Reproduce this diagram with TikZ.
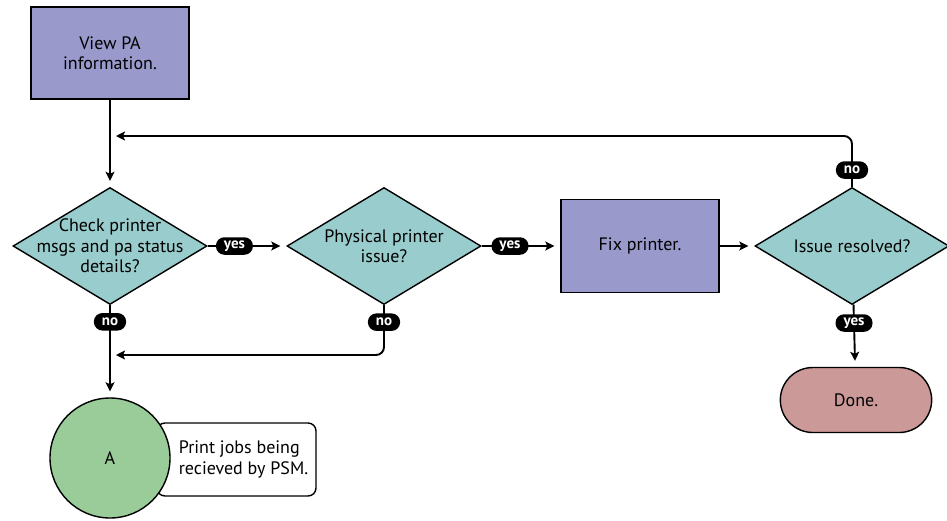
\documentclass[tikz,border=0pt]{standalone}
\usepackage{fontspec}
\setmainfont{PT Sans}
\usetikzlibrary{shapes.geometric, shapes.misc, arrows, arrows.meta}
\definecolor{procblue}{HTML}{9999CC}
\definecolor{decteal}{HTML}{99CCCC}
\definecolor{connectgreen}{HTML}{99CC99}
\definecolor{endpink}{HTML}{CC9999}
\tikzstyle{arrow} = [line width=1.9pt,->,>={Stealth[length=9pt,width=9pt,inset=2pt]},shorten >=6pt]
\tikzstyle{process} = [draw, line width=1.4pt, fill=procblue, minimum width=158pt, minimum height=92pt, align=center]
\tikzstyle{decision} = [draw, diamond, line width=1.4pt, fill=decteal, minimum width=194pt, minimum height=117pt, inner sep=0pt]
\tikzstyle{answer} = [fill=black, text=white, rounded corners=8.5pt, font=\bfseries\fontsize{15}{15}\selectfont, inner xsep=8pt, inner ysep=0pt, minimum height=17.5pt]

\begin{document}
\begin{tikzpicture}[x=1pt, y=-1pt, font=\fontsize{18}{20.5}\selectfont]
            \useasboundingbox (0,0) rectangle (947,520);
            \node[process] (view) at (110,53) {View PA\\information.};
            \node[decision, label={[align=center]center:Check printer\\msgs and pa status\\details?}] (check) at (110,246) {};
            \node[decision, label={[align=center]center:Physical printer\\issue?}] (phys) at (384,246) {};
            \node[process, minimum height=93pt] (fix) at (640,246) {Fix printer.};
            \node[decision, label={center:Issue resolved?}] (resolved) at (852,246) {};
            \node[draw, rounded rectangle, line width=1.4pt, fill=endpink, minimum width=158pt, minimum height=65pt] (done) at (856,400) {Done.};
            \node[draw, rounded corners=8pt, line width=1.4pt, fill=white, minimum width=159pt, minimum height=73pt, align=left] (note) at (236.5,459.5) {\hspace*{14pt}Print jobs being\\\hspace*{14pt}recieved by PSM.};
            \node[draw, circle, line width=1.4pt, fill=connectgreen, minimum size=120pt] (a) at (110,458) {A};
            \coordinate (topjoin) at (110,136);
            \coordinate (lowjoin) at (110,355);
            \draw[arrow] (view) -- (check);
            \draw[arrow] (check) -- node[answer, pos=0.34] {yes} (phys);
            \draw[arrow] (phys) -- node[answer, pos=0.36] {yes} (fix);
            \draw[arrow] (fix) -- (resolved);
            \draw[arrow] (check) -- node[answer, pos=0.18] {no} (a);
            \draw[arrow, rounded corners=8pt] (phys.south) -- node[answer, pos=0.34] {no} (phys.south |- lowjoin) -- (lowjoin);
            \draw[arrow, rounded corners=8pt] (resolved.north) -- node[answer, pos=0.33] {no} (resolved.north |- topjoin) -- (topjoin);
            \draw[arrow] (resolved) -- node[answer, pos=0.3] {yes} (done);
        \end{tikzpicture}
\end{document}
